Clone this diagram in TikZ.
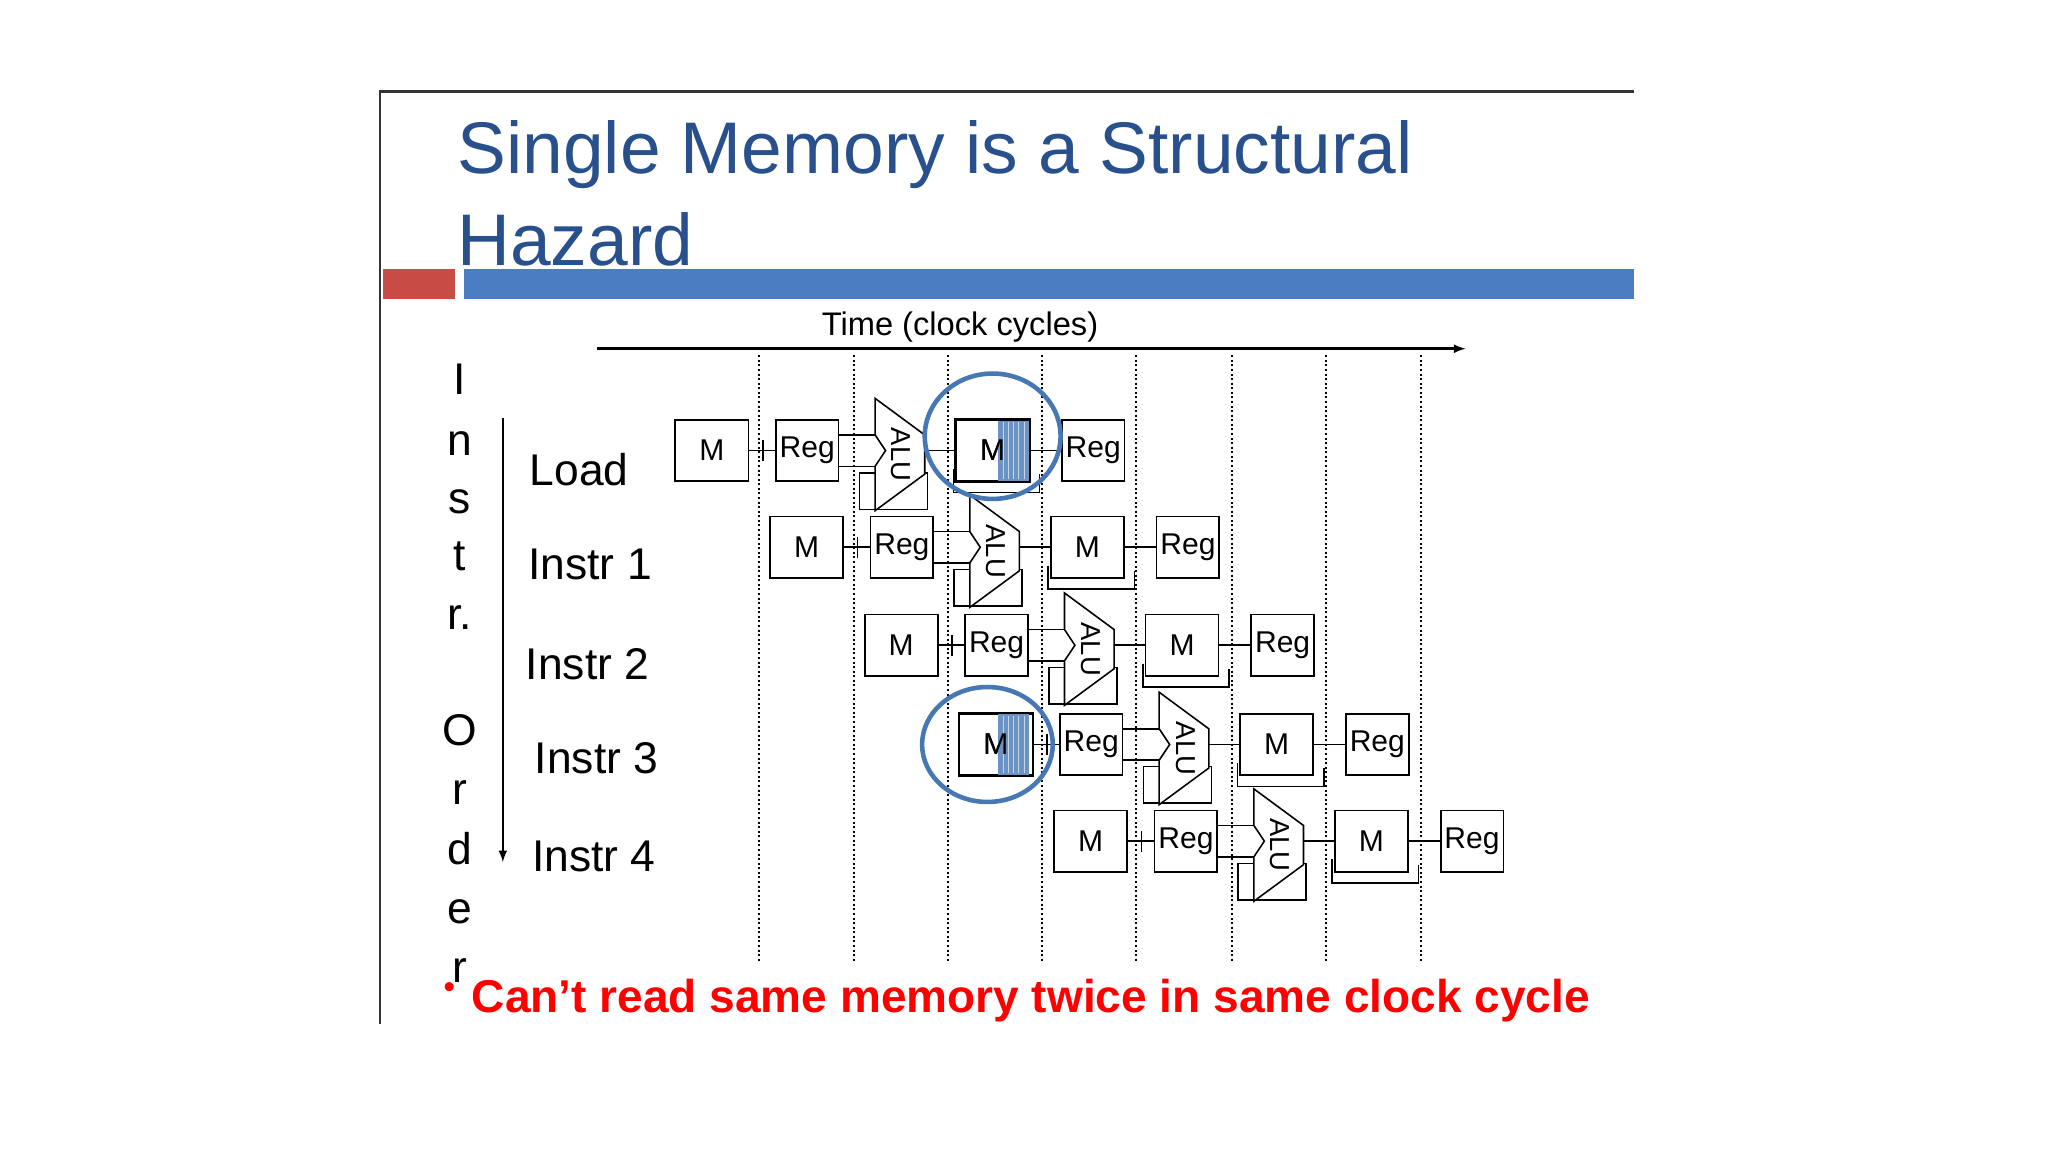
\documentclass[tikz,border=0pt]{standalone}
\usepackage{fontspec}
\setmainfont{Liberation Sans}
\definecolor{tblue}{RGB}{40,80,140}
\definecolor{bblue}{RGB}{75,125,195}
\definecolor{rred}{RGB}{200,75,70}
\definecolor{cblue}{RGB}{70,120,180}
\begin{document}
\begin{tikzpicture}[x=1pt,y=-1pt,
  box/.style={draw,line width=1.3pt,minimum width=56pt,minimum height=47pt,inner sep=0pt,font=\fontsize{23}{23}\selectfont},
  rbox/.style={box,minimum width=48pt},
  wire/.style={line width=1.2pt},
  lab/.style={anchor=base west,font=\fontsize{34}{34}\selectfont},
  vl/.style={font=\fontsize{34}{34}\selectfont,anchor=base}]
\useasboundingbox (0,0) rectangle (1568,882);
% frame
\draw[line width=2pt,black!80] (291,784) -- (291,70) -- (1251,70);
\fill[rred] (293,206) rectangle (348,229);
\fill[bblue] (355,206) rectangle (1251,229);
\node[anchor=base west,text=tblue,font=\fontsize{56}{56}\selectfont,inner sep=0pt] (t1) at (350,133) {Single Memory is a Structural};
\node[anchor=base west,text=tblue,font=\fontsize{56}{56}\selectfont,inner sep=0pt] (t2) at (350,203) {Hazard};
% time axis
\coordinate (ta) at (457,267); \coordinate (tb) at (1122,267);
\draw[line width=2pt,-latex] (ta) -- (tb);
\node[font=\fontsize{25}{25}\selectfont,anchor=base] (tl) at (735,257) {Time (clock cycles)};
\foreach \x in {581,654,726,798,870,943,1015,1088}
  \draw[line width=1.5pt,dotted] (\x,272) -- (\x,737);
% row labels
\node[lab] (l0) at (402,372) {Load};
\node[lab] (l1) at (401,444) {Instr 1};
\node[lab] (l2) at (399,520) {Instr 2};
\node[lab] (l3) at (406,592) {Instr 3};
\node[lab] (l4) at (404,667) {Instr 4};
\coordinate (oa) at (385,320); \coordinate (ob) at (385,660);
\draw[line width=2pt,-latex] (oa) -- (ob);
\foreach \c/\y in {I/302,n/349,s/393,t/437,r./482,O/571,r/616,d/662,e/707,r/752}
  \node[vl] at (352,\y) {\c};
% pipeline rows
\foreach \i/\y in {0/345,1/419,2/494,3/570,4/644}{
  \pgfmathsetmacro{\s}{516+72.5*\i}
  \begin{scope}[shift={(\s,\y)}]
    \draw[wire] (142,17) rectangle (194,45);
    \draw[wire] (214,14) -- (214,32) -- (280,32) -- (280,18);
    \fill[white] (0,0) ++(154,-40) -- (192,-12) -- (192,18) -- (154,46) -- (154,12) -- (162,0) -- (154,-12) -- cycle;
    \node[box] (ma\i) at (29,0) {M};
    \node[rbox] (ra\i) at (102,0) {Reg};
    \node[box] (mb\i) at (244,0) {M};
    \node[rbox] (rb\i) at (321,0) {Reg};
    \draw[wire,fill=white] (154,-40) -- (192,-12) -- (192,18) -- (154,46) -- (154,12) -- (162,0) -- (154,-12) -- cycle;
    \node[rotate=-90,font=\fontsize{21}{21}\selectfont] (alu\i) at (174,3) {ALU};
    \draw[wire] (ma\i.east) -- (ra\i.west);
    \draw[wire] (68,-8) -- (68,8);
    \draw[wire] (ra\i.east|-0,-12) -- (154,-12);
    \draw[wire] (ra\i.east|-0,12) -- (154,12);
    \draw[wire] (192,0) -- (mb\i.west);
    \draw[wire] (mb\i.east) -- (rb\i.west);
  \end{scope}}
% hazard highlight
\fill[cblue!80] (764,322) rectangle (788,368);
\foreach \x in {768,772,776,780,784} \draw[white!70!cblue,line width=0.6pt] (\x,323) -- (\x,367);
\draw[line width=1.3pt] (mb0.north west) rectangle (mb0.south east);
\node[font=\fontsize{23}{23}\selectfont] at (mb0) {M};
\fill[cblue!80] (764,547) rectangle (788,593);
\foreach \x in {768,772,776,780,784} \draw[white!70!cblue,line width=0.6pt] (\x,548) -- (\x,592);
\draw[line width=1.3pt] (ma3.north west) rectangle (ma3.south east);
\node[font=\fontsize{23}{23}\selectfont] at (ma3) {M};
\draw[cblue,line width=3.5pt] (760,334) ellipse (52 and 48);
\draw[cblue,line width=3.5pt] (756,570) ellipse (50 and 44);
% bottom note
\node[text=red,font=\fontsize{24}{24}\selectfont\bfseries] (bul) at (344,758) {•};
\node[text=red,anchor=base west,inner sep=0pt] (note) at (361,775)
  {\resizebox{856pt}{!}{\fontsize{30}{30}\selectfont\bfseries Can’t\ read\ same\ memory\ twice\ in\ same\ clock\ cycle}};
\end{tikzpicture}
\end{document}
